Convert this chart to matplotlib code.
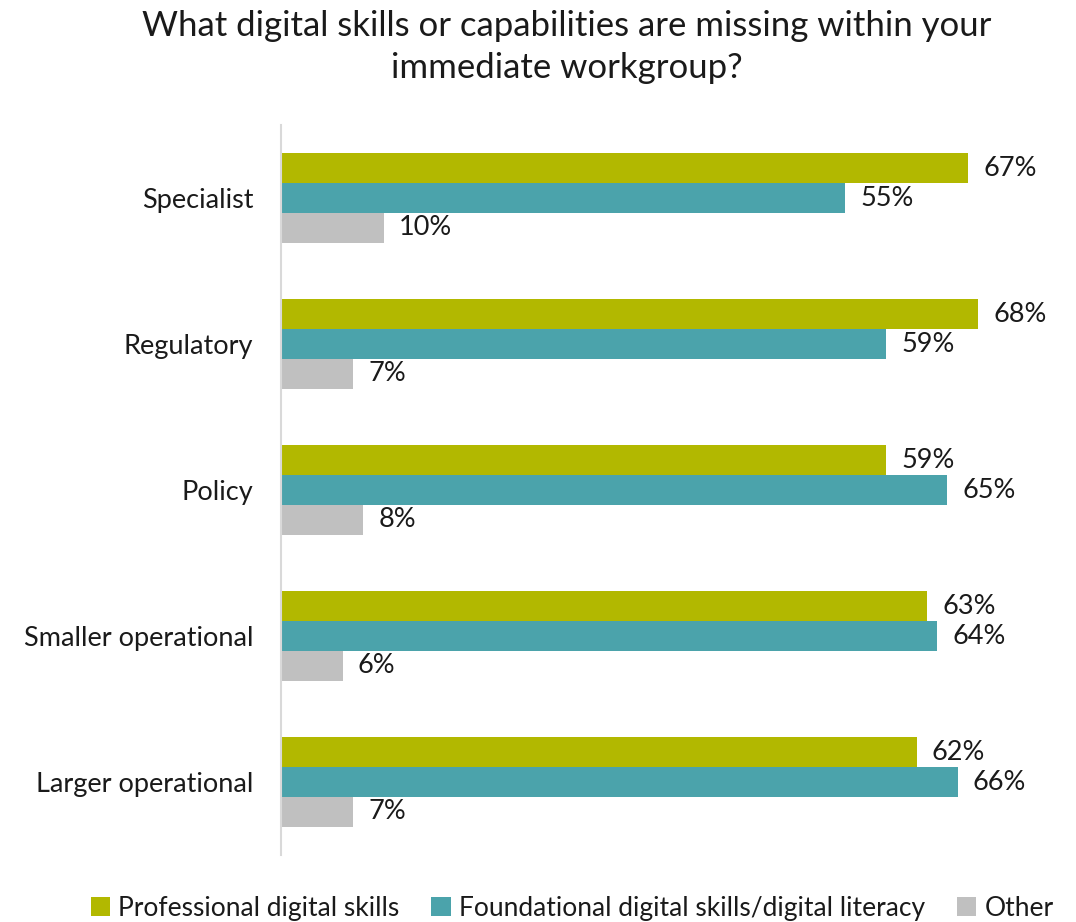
import numpy as np
import matplotlib.pyplot as plt
from matplotlib.patches import Patch

plt.rcParams['font.family'] = ['Lato', 'DejaVu Sans']

# 各工作组类型及三类技能缺口比例（%）
groups = ['Specialist', 'Regulatory', 'Policy', 'Smaller operational', 'Larger operational']
professional = [67, 68, 59, 63, 62]
foundational = [55, 59, 65, 64, 66]
other = [10, 7, 8, 6, 7]

series_names = ['Professional digital skills',
                'Foundational digital skills/digital literacy',
                'Other']
colors = ['#B2B800', '#4BA3AB', '#C0C0C0']

W, H = 1076, 922
fig = plt.figure(figsize=(W / 100, H / 100), dpi=100)
left, right, top, bottom = 281, 1060, 125, 855
ax = fig.add_axes([left / W, (H - bottom) / H, (right - left) / W, (bottom - top) / H])

y = np.arange(len(groups))
h = 0.205
for k, vals in enumerate([professional, foundational, other]):
    pos = y + (k - 1) * h
    ax.barh(pos, vals, height=h, color=colors[k], edgecolor='none')
    for p, v in zip(pos, vals):
        ax.text(v + 1.5, p, f'{v}%', va='center', ha='left', fontsize=19.5, color='#1a1a1a')

ax.set_ylim(len(groups) - 0.5, -0.5)
ax.set_xlim(0, (right - left) / 10.25)
ax.set_yticks(y)
ax.set_yticklabels(groups, fontsize=19.5, color='#1a1a1a')
ax.tick_params(axis='y', length=0, pad=20)
ax.set_xticks([])
for s in ['top', 'right', 'bottom']:
    ax.spines[s].set_visible(False)
ax.spines['left'].set_color('#D9D9D9')
ax.spines['left'].set_linewidth(1.5)

fig.text(567 / W, 1 - 47 / H,
         'What digital skills or capabilities are missing within your\nimmediate workgroup?',
         ha='center', va='center', fontsize=25, color='#1a1a1a', linespacing=1.35)

handles = [Patch(facecolor=c, edgecolor='none') for c in colors]
fig.legend(handles, series_names, loc='center', bbox_to_anchor=(572 / W, 1 - 908 / H),
           ncol=3, frameon=False, fontsize=19, handlelength=0.75, handleheight=0.75,
           handletextpad=0.3, columnspacing=1.2, labelcolor='#1a1a1a')

fig.savefig('out.png', dpi=100)
